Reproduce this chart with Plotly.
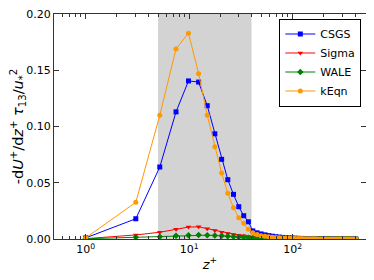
import plotly.graph_objects as go

z_plus = [1.0, 3.05, 5.2, 7.46, 9.84, 12.33, 14.94, 17.69, 20.58, 23.6,
          26.78, 30.12, 33.63, 37.31, 41.18, 45.24, 49.5, 53.97, 58.67, 63.61,
          68.79, 74.23, 79.94, 85.94, 92.23, 98.85, 105.79, 113.08, 120.73, 128.77,
          137.21, 146.07, 155.37, 165.14, 175.4, 186.17, 197.48, 209.35, 221.82, 234.91,
          248.65, 263.09, 278.24, 294.15, 310.86, 328.4, 346.82, 366.16, 386.47, 407.79]

csgs = [0.001, 0.018, 0.064, 0.113, 0.1405, 0.1395, 0.1185, 0.0935, 0.0708, 0.0527,
        0.0397, 0.0287, 0.0207, 0.0153, 0.0072, 0.0055, 0.0045, 0.0037, 0.003, 0.0025,
        0.002, 0.0017, 0.0014, 0.0012, 0.001, 0.0008, 0.0007, 0.0006, 0.0005, 0.0004,
        0.0004, 0.0003, 0.0003, 0.0002, 0.0002, 0.0002, 0.0001, 0.0001, 0.0001, 0.0001,
        0.0001, 0.0001, 0.0, 0.0, 0.0, 0.0, 0.0, 0.0, 0.0, 0.0]

sigma = [0.0003, 0.0036, 0.006, 0.0086, 0.0106, 0.0108, 0.0092, 0.0075, 0.006, 0.0049,
         0.0041, 0.0034, 0.0028, 0.0023, 0.0017, 0.0013, 0.001, 0.0008, 0.0006, 0.0005,
         0.0004, 0.0003, 0.0003, 0.0002, 0.0002, 0.0002, 0.0001, 0.0001, 0.0001, 0.0001,
         0.0001, 0.0001, 0.0, 0.0, 0.0, 0.0, 0.0, 0.0, 0.0, 0.0,
         0.0, 0.0, 0.0, 0.0, 0.0, 0.0, 0.0, 0.0, 0.0, 0.0]

wale = [0.0002, 0.0015, 0.0021, 0.0028, 0.0033, 0.0035, 0.0034, 0.0031, 0.0028, 0.0024,
        0.0021, 0.0018, 0.0015, 0.0012, 0.0009, 0.0007, 0.0006, 0.0005, 0.0004, 0.0003,
        0.0003, 0.0002, 0.0002, 0.0002, 0.0001, 0.0001, 0.0001, 0.0001, 0.0001, 0.0001,
        0.0, 0.0, 0.0, 0.0, 0.0, 0.0, 0.0, 0.0, 0.0, 0.0,
        0.0, 0.0, 0.0, 0.0, 0.0, 0.0, 0.0, 0.0, 0.0, 0.0]

keqn = [0.001, 0.0326, 0.110, 0.169, 0.183, 0.147, 0.110, 0.082, 0.0586, 0.0406,
        0.0278, 0.0189, 0.0139, 0.0086, 0.0055, 0.004, 0.003, 0.0024, 0.002, 0.0016,
        0.0013, 0.0011, 0.0009, 0.0008, 0.0007, 0.0006, 0.0005, 0.0004, 0.0004, 0.0003,
        0.0003, 0.0002, 0.0002, 0.0002, 0.0001, 0.0001, 0.0001, 0.0001, 0.0001, 0.0,
        0.0, 0.0, 0.0, 0.0, 0.0, 0.0, 0.0, 0.0, 0.0, 0.0]

series_names = ["CSGS", "Sigma", "WALE", "kEqn"]
series_values = [csgs, sigma, wale, keqn]
series_colors = ["#0000ff", "#ff0000", "#008000", "#ff9900"]
series_symbols = ["square", "triangle-down", "diamond", "circle"]
series_sizes = [5, 5, 5, 5]

shade_range = [5, 40]
x_tick_vals = [1, 10, 100]
x_tick_text = ["10<sup>0</sup>", "10<sup>1</sup>", "10<sup>2</sup>"]
y_tick_vals = [0.0, 0.05, 0.10, 0.15, 0.20]
y_tick_text = ["0.00", "0.05", "0.10", "0.15", "0.20"]

fig = go.Figure()
for name, vals, col, sym, sz in zip(series_names, series_values, series_colors,
                                    series_symbols, series_sizes):
    fig.add_trace(go.Scatter(
        x=z_plus, y=vals, name=name, mode="lines+markers",
        line=dict(color=col, width=1),
        marker=dict(symbol=sym, size=sz, color=col, line=dict(width=0)),
    ))

fig.add_vrect(x0=shade_range[0], x1=shade_range[1], fillcolor="#d3d3d3",
              opacity=1, line_width=0, layer="below")

axis_common = dict(showline=True, linecolor="#333333", linewidth=1, mirror="ticks",
                   ticks="inside", tickcolor="#333333", showgrid=False, zeroline=False,
                   automargin=False, ticklabeloverflow="allow",
                   tickfont=dict(size=11, color="black"))

fig.update_xaxes(type="log", range=[-0.306, 2.708], tickvals=x_tick_vals,
                 ticktext=x_tick_text, ticklen=5,
                 minor=dict(ticks="inside", ticklen=3, tickcolor="#333333",
                            dtick="D1", showgrid=False),
                 title=dict(text="<i>z</i><sup>+</sup>", font=dict(size=13), standoff=4),
                 **axis_common)
fig.update_yaxes(range=[0, 0.2], tickvals=y_tick_vals, ticktext=y_tick_text, ticklen=5,
                 title=dict(text="-d<i>U</i><sup>+</sup>/d<i>z</i><sup>+</sup> "
                                 "<i>τ</i><sub>13</sub>/<i>u</i><sub>*</sub><sup>2</sup>",
                            font=dict(size=14.5), standoff=1),
                 **axis_common)

fig.update_layout(
    width=374, height=280,
    margin=dict(l=46, r=16, t=6, b=49),
    paper_bgcolor="white", plot_bgcolor="white",
    font=dict(family="DejaVu Sans", size=11, color="black"),
    legend=dict(x=0.985, y=0.98, xanchor="right", yanchor="top",
                bgcolor="white", bordercolor="black", borderwidth=1,
                font=dict(size=11), tracegroupgap=0, itemwidth=30),
    showlegend=True,
)

fig.write_html("out.html")
